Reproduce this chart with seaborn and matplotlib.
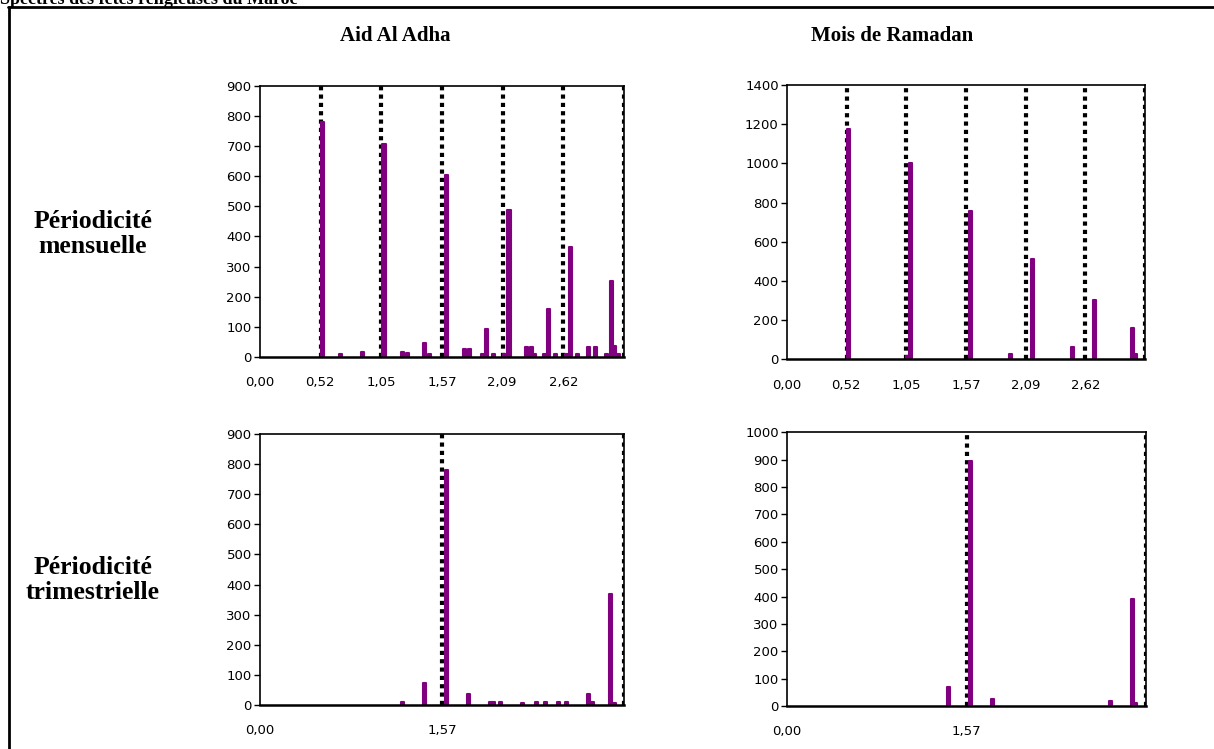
import numpy as np
import pandas as pd
import seaborn as sns
import matplotlib.pyplot as plt
from matplotlib.lines import Line2D

aid_m_freq = [0.538, 0.693, 0.883, 1.070, 1.228, 1.269, 1.418, 1.461, 1.611, 1.764,
              1.807, 1.922, 1.956, 2.014, 2.114, 2.149, 2.302, 2.345, 2.368, 2.454,
              2.494, 2.549, 2.647, 2.684, 2.742, 2.834, 2.897, 2.992, 3.035, 3.058, 3.093]
aid_m_amp = [780, 10, 18, 705, 18, 12, 45, 10, 605, 25,
             25, 10, 92, 10, 10, 488, 32, 32, 10, 10,
             160, 10, 10, 365, 10, 32, 32, 10, 252, 35, 10]

ram_m_freq = [0.541, 1.053, 1.082, 1.609, 1.960, 2.153, 2.504, 2.697, 3.030, 3.057]
ram_m_amp = [1175, 15, 1000, 755, 25, 510, 65, 305, 160, 25]

aid_t_freq = [1.228, 1.418, 1.611, 1.801, 1.991, 2.014, 2.077, 2.267, 2.388, 2.460,
              2.575, 2.647, 2.837, 2.871, 3.029, 3.058]
aid_t_amp = [10, 72, 780, 38, 10, 10, 10, 8, 10, 10,
             10, 10, 38, 10, 370, 8]

ram_t_freq = [1.416, 1.609, 1.801, 2.833, 3.025, 3.051]
ram_t_amp = [70, 895, 25, 18, 390, 12]

# multiples de pi/6 (mensuel) et pi/2 (trimestriel)
harm_m = [np.pi / 6 * k for k in range(1, 7)]
harm_t = [np.pi / 2 * k for k in range(1, 3)]
ticks_m = [0.0, 0.52, 1.05, 1.57, 2.09, 2.62]
ticks_t = [0.0, 1.57]

purple = "#800080"

sns.set_theme(style="white")
plt.rcParams["font.family"] = ["DejaVu Sans"]
plt.rcParams["text.color"] = "black"
plt.rcParams["xtick.color"] = "black"
plt.rcParams["ytick.color"] = "black"

fig = plt.figure(figsize=(12.14, 7.49), dpi=100)

panels = [
    ([0.2142, 0.5234, 0.2998, 0.3622], aid_m_freq, aid_m_amp, harm_m, ticks_m, 900, 100),
    ([0.6483, 0.5203, 0.2949, 0.3662], ram_m_freq, ram_m_amp, harm_m, ticks_m, 1400, 200),
    ([0.2142, 0.0587, 0.2998, 0.3618], aid_t_freq, aid_t_amp, harm_t, ticks_t, 900, 100),
    ([0.6483, 0.0574, 0.2957, 0.3654], ram_t_freq, ram_t_amp, harm_t, ticks_t, 1000, 100),
]

for rect, freq, amp, harm, ticks, ymax, ystep in panels:
    ax = fig.add_axes(rect)
    df = pd.DataFrame({"freq": freq, "amp": amp})
    for h in harm:
        ax.axvline(h, color="black", lw=3, ls=(0, (1, 1)), zorder=0.5)
    gap = np.min(np.diff(np.sort(df["freq"].values)))
    sns.barplot(data=df, x="freq", y="amp", native_scale=True, width=0.026 / gap,
                color=purple, saturation=1, errorbar=None, linewidth=1.5,
                edgecolor=purple, ax=ax, zorder=2)
    for p in ax.patches:
        p.set_joinstyle("round")
    ax.set_xlim(0, np.pi)
    ax.set_ylim(0, ymax)
    ax.set_xticks(ticks)
    ax.set_xticklabels([f"{t:.2f}".replace(".", ",") for t in ticks])
    ax.set_yticks(np.arange(0, ymax + 1, ystep))
    ax.set_xlabel("")
    ax.set_ylabel("")
    ax.tick_params(axis="y", left=True, length=4, width=1, color="black",
                   labelcolor="black", labelsize=9.5, pad=2)
    ax.tick_params(axis="x", bottom=False, labelcolor="black", labelsize=9.5, pad=8)
    for s in ax.spines.values():
        s.set_color("black")
        s.set_linewidth(1.2)
    ax.spines["bottom"].set_linewidth(1.8)

serif = ["Liberation Serif", "DejaVu Serif"]
fig.text(0.3254, 0.952, "Aid Al Adha", ha="center", va="center", color="black",
         fontsize=15, fontweight="bold", family=serif)
fig.text(0.735, 0.952, "Mois de Ramadan", ha="center", va="center", color="black",
         fontsize=15, fontweight="bold", family=serif)
fig.text(0.0766, 0.688, "Périodicité\nmensuelle", ha="center", va="center",
         color="black", fontsize=18.5, fontweight="bold", family=serif,
         linespacing=1.1)
fig.text(0.0766, 0.226, "Périodicité\ntrimestrielle", ha="center", va="center",
         color="black", fontsize=18.5, fontweight="bold", family=serif,
         linespacing=1.1)
fig.text(0.0, 1 - 4 / 749, "Spectres des fêtes religieuses du Maroc", ha="left",
         va="baseline", color="black", fontsize=13, fontweight="bold", family=serif)

# cadre du tableau
fig.add_artist(Line2D([8 / 1214, 1.0], [1 - 7 / 749, 1 - 7 / 749],
                      transform=fig.transFigure, color="black", lw=2))
fig.add_artist(Line2D([8.5 / 1214, 8.5 / 1214], [0, 1 - 7 / 749],
                      transform=fig.transFigure, color="black", lw=2))

fig.savefig("out.png", dpi=100)
